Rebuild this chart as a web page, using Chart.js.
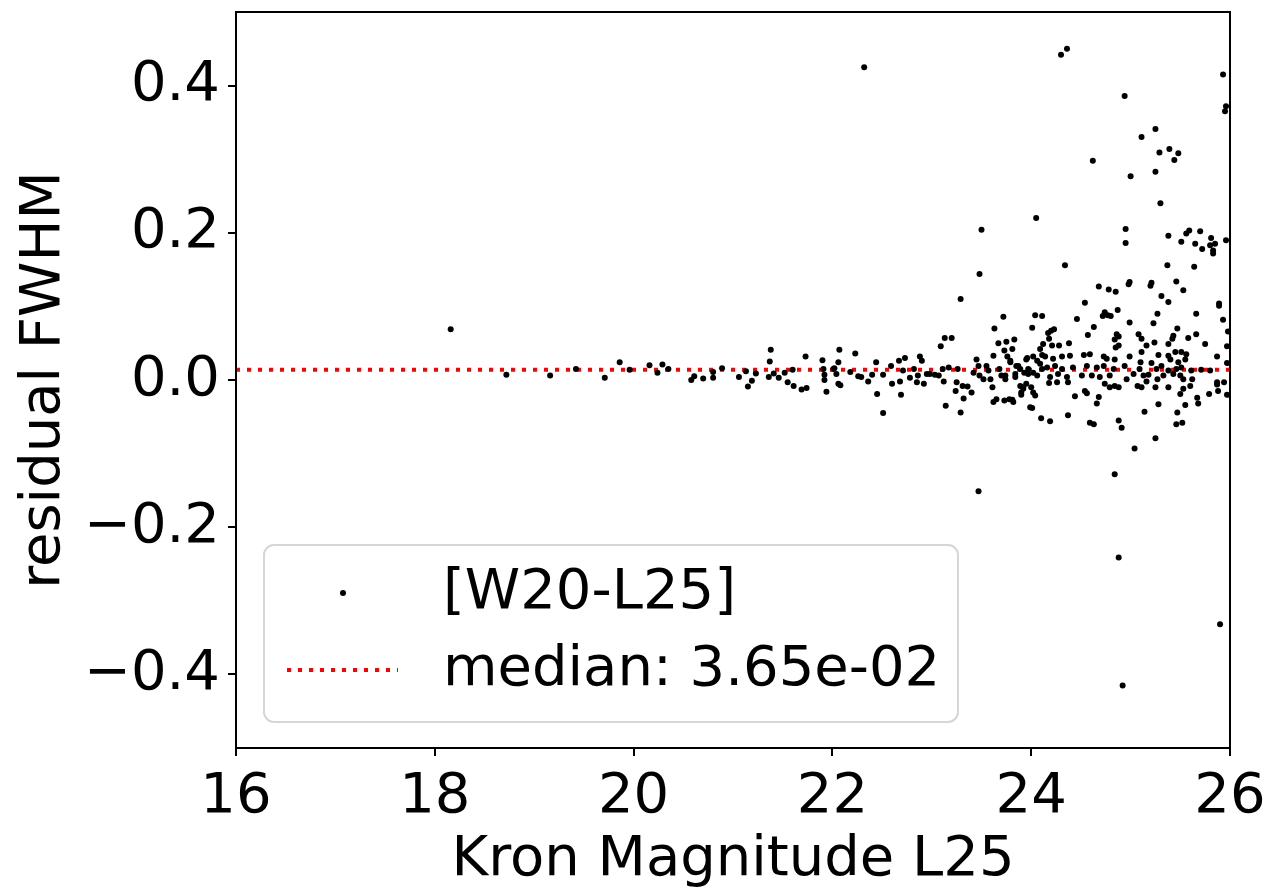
<!DOCTYPE html>
<html>
<head>
<meta charset="utf-8">
<script src="https://cdn.jsdelivr.net/npm/chart.js@4.4.1/dist/chart.umd.min.js"></script>
<style>
  html, body { margin: 0; padding: 0; background: #fff; }
  #wrap { width: 1276px; height: 890px; }
</style>
</head>
<body>
<div id="wrap"><canvas id="canvas" width="1276" height="890"></canvas></div>
<script>
// Kron magnitude (x) and residual FWHM (y)
var magnitude = [
  18.16,18.72,19.16,19.42,19.71,19.86,19.96,20.16,20.24,20.29,20.35,20.58,20.61,20.70,20.80,20.80,20.89,
  21.06,21.13,21.15,21.19,21.23,21.37,21.38,21.36,21.41,21.46,21.52,21.55,21.60,21.61,21.69,21.74,21.73,
  21.90,21.91,21.92,21.92,21.94,22.01,22.07,22.06,22.06,
  22.02,22.04,22.08,22.23,22.18,22.26,22.29,22.36,22.40,22.44,22.45,22.51,22.51,22.59,22.60,22.67,22.73,
  22.68,22.69,22.71,22.78,22.82,22.88,22.90,22.86,22.85,22.92,22.95,22.98,23.03,23.07,23.09,23.13,23.20,
  23.11,23.12,23.14,23.17,23.26,23.25,23.24,23.29,23.32,23.31,23.36,23.40,23.29,23.42,23.45,23.47,23.48,
  23.52,23.55,23.57,23.59,23.61,23.62,23.65,23.62,23.63,23.67,23.68,23.70,23.72,23.73,23.74,23.75,23.78,
  23.79,23.81,23.83,23.84,23.87,23.90,23.92,23.95,23.97,23.99,
  24.68,24.78,24.85,24.54,24.74,24.77,24.80,24.72,24.87,24.04,24.11,24.46,24.01,24.20,24.23,24.17,24.63,
  24.57,24.86,24.84,24.88,24.18,24.12,24.09,24.11,24.14,24.21,24.28,24.38,23.76,23.96,24.02,24.06,24.09,
  24.22,24.31,24.39,24.53,24.59,24.73,24.76,23.79,23.85,23.89,23.93,23.97,24.02,24.11,24.16,24.24,24.31,
  24.42,24.56,24.66,24.73,24.83,23.74,23.84,24.06,24.19,24.27,24.36,24.51,24.61,24.69,24.79,23.89,23.92,
  23.95,24.00,24.02,24.04,23.90,24.18,24.26,24.37,24.44,24.54,24.56,24.68,24.66,24.74,24.79,24.84,23.73,
  23.81,23.82,24.01,24.10,24.19,24.37,24.59,24.63,24.88,
  24.95,24.95,25.38,25.56,25.59,25.70,25.51,25.65,25.72,25.81,25.80,25.83,25.85,25.83,25.96,25.37,25.64,
  24.99,24.98,25.21,25.20,25.46,25.53,25.31,25.38,25.89,25.89,25.27,25.66,25.93,24.99,25.23,25.47,25.98,
  24.88,25.08,25.11,25.16,25.43,25.42,25.38,25.58,25.66,25.75,25.24,25.97,24.85,25.11,25.10,24.99,25.28,
  25.38,25.40,25.45,25.51,25.56,25.55,25.87,25.97,24.84,24.94,25.03,25.09,25.13,25.18,25.21,25.26,25.31,
  25.33,25.38,25.43,25.46,25.50,25.53,25.51,25.48,25.61,25.71,25.80,24.88,24.96,25.07,25.11,25.16,25.25,
  25.27,25.38,25.50,25.53,25.60,25.62,25.67,25.68,25.79,25.87,25.88,25.94,25.97,25.87,25.14,25.28,25.47,
  25.55,25.46,25.52,24.91,25.25,25.04,24.84,
  22.32,24.30,24.36,25.93,25.96,25.95,24.94,25.25,25.11,25.29,25.39,25.48,25.44,24.62,25.00,25.25,25.30,
  24.05,23.50,23.48,24.34,
  23.47,24.88,25.90,24.92
];
var residual = [
  0.069,0.007,0.006,0.015,0.003,0.024,0.014,0.020,0.010,0.021,0.015,0.000,0.005,0.002,0.011,0.003,0.016,
  0.004,0.012,-0.009,-0.001,0.009,0.025,0.041,0.004,0.009,0.003,0.010,-0.003,0.014,-0.008,-0.013,-0.011,0.032,
  0.027,0.015,0.007,0.000,-0.016,0.015,0.041,0.024,-0.005,
  0.016,0.008,-0.007,0.036,0.011,0.005,0.004,-0.002,0.007,0.024,-0.019,-0.045,0.007,0.019,-0.005,0.026,0.030,
  -0.002,-0.020,0.013,0.003,0.015,0.032,0.026,0.006,-0.003,-0.005,0.008,0.008,0.007,0.006,0.046,0.057,0.057,
  0.015,-0.002,-0.035,0.017,0.015,-0.003,-0.015,-0.044,-0.025,-0.008,-0.009,-0.017,0.110,0.010,0.028,0.019,0.006,
  0.001,0.019,0.013,0.001,-0.010,-0.030,-0.026,0.033,0.070,0.050,0.015,0.006,0.086,0.040,0.001,0.052,-0.026,
  0.026,0.042,0.055,0.008,0.019,-0.017,-0.010,0.028,0.008,-0.037,
  0.127,0.123,0.120,0.105,0.092,0.088,0.087,0.087,0.095,0.088,0.087,0.083,0.071,0.067,0.069,0.064,0.072,
  0.061,0.062,0.055,0.047,0.056,0.049,0.042,0.034,0.032,0.047,0.047,0.050,0.032,0.030,0.032,0.026,0.022,
  0.029,0.032,0.033,0.034,0.035,0.032,0.029,0.024,0.019,0.015,0.010,0.015,0.010,0.015,0.017,0.019,0.015,
  0.017,0.019,0.017,0.019,0.015,0.006,0.004,0.006,0.004,0.008,0.004,0.006,0.006,0.004,0.006,-0.008,-0.012,
  -0.005,-0.010,-0.017,-0.021,-0.020,-0.004,-0.003,-0.003,-0.022,-0.015,-0.018,-0.023,-0.032,-0.005,-0.010,-0.008,-0.028,
  -0.027,-0.030,-0.038,-0.052,-0.056,-0.048,-0.058,-0.060,-0.055,
  0.205,0.186,0.196,0.199,0.203,0.202,0.188,0.185,0.178,0.193,0.183,0.176,0.185,0.172,0.190,0.156,0.154,
  0.133,0.130,0.132,0.128,0.134,0.122,0.114,0.106,0.104,0.101,0.090,0.090,0.082,0.078,0.077,0.070,0.066,
  0.059,0.062,0.056,0.047,0.060,0.056,0.049,0.057,0.062,0.049,0.051,0.046,0.044,0.038,0.024,0.032,0.034,
  0.033,0.028,0.038,0.038,0.035,0.028,0.032,0.023,0.028,0.019,0.008,0.015,0.006,0.007,0.023,0.015,0.019,
  0.006,0.013,0.008,0.015,0.006,0.001,0.017,0.024,0.013,0.014,0.013,-0.010,0.001,-0.008,-0.010,-0.002,-0.010,
  0.001,-0.010,-0.019,-0.012,-0.008,0.001,-0.024,-0.032,-0.019,-0.006,-0.015,-0.003,-0.020,-0.003,-0.043,-0.033,-0.044,
  -0.034,-0.060,-0.058,-0.065,-0.079,-0.093,-0.128,
  0.425,0.442,0.450,0.415,0.372,0.365,0.386,0.341,0.330,0.309,0.314,0.308,0.299,0.298,0.277,0.283,0.240,
  0.220,0.204,0.144,0.156,
  -0.151,-0.241,-0.332,-0.415
];
var medianLevel = 0.014;
var xRange = [16, 26];
var yRange = [-0.5, 0.5];
var xTicks = [16, 18, 20, 22, 24, 26];
var yTicks = [-0.4, -0.2, 0.0, 0.2, 0.4];
var seriesName = "[W20-L25]";
var medianName = "median: 3.65e-02";

var FONT = "'DejaVu Sans', sans-serif";
var FS = 56;

var points = [];
for (var i = 0; i < magnitude.length; i++) {
    points.push({x: magnitude[i], y: residual[i]});
}

// top/right spines + legend box (matplotlib style, inside the axes)
var framePlugin = {
    id: 'frame',
    afterDraw: function(chart) {
        var ctx = chart.ctx;
        var a = chart.chartArea;
        ctx.save();
        ctx.strokeStyle = '#000';
        ctx.lineWidth = 2;
        ctx.strokeRect(a.left, a.top, a.right - a.left, a.bottom - a.top);

        // legend
        var bx = 264, by = 545, bw = 694, bh = 177, r = 10;
        ctx.beginPath();
        ctx.moveTo(bx + r, by);
        ctx.arcTo(bx + bw, by, bx + bw, by + bh, r);
        ctx.arcTo(bx + bw, by + bh, bx, by + bh, r);
        ctx.arcTo(bx, by + bh, bx, by, r);
        ctx.arcTo(bx, by, bx + bw, by, r);
        ctx.closePath();
        ctx.fillStyle = 'rgba(255,255,255,0.8)';
        ctx.fill();
        ctx.strokeStyle = '#d6d6d6';
        ctx.lineWidth = 2;
        ctx.stroke();

        ctx.fillStyle = '#000';
        ctx.beginPath();
        ctx.arc(343, 593, 3, 0, Math.PI * 2);
        ctx.fill();

        ctx.strokeStyle = 'red';
        ctx.lineWidth = 4;
        ctx.setLineDash([4, 7]);
        ctx.beginPath();
        ctx.moveTo(287, 670);
        ctx.lineTo(398, 670);
        ctx.stroke();
        ctx.setLineDash([]);

        ctx.font = FS + 'px ' + FONT;
        ctx.textBaseline = 'middle';
        ctx.textAlign = 'left';
        ctx.fillStyle = '#000';
        ctx.fillText(seriesName, 443, 593);
        ctx.fillText(medianName, 443, 670);
        ctx.restore();
    }
};

function noEndPadding(s) {
    s.paddingTop = 0;
    s.paddingBottom = 0;
    s.paddingLeft = 0;
    s.paddingRight = 0;
}

var ctx = document.getElementById('canvas');
var chart = new Chart(ctx, {
    type: 'scatter',
    data: {
        datasets: [
            {
                label: seriesName,
                data: points,
                backgroundColor: '#000',
                borderWidth: 0,
                pointRadius: 3,
                pointHoverRadius: 3
            },
            {
                type: 'line',
                label: medianName,
                data: [{x: xRange[0], y: medianLevel}, {x: xRange[1], y: medianLevel}],
                borderColor: 'red',
                borderWidth: 4,
                borderDash: [4, 7],
                pointRadius: 0,
                fill: false
            }
        ]
    },
    options: {
        responsive: false,
        animation: false,
        devicePixelRatio: 1,
        layout: { padding: { left: 0, right: 46, top: 12, bottom: 0 } },
        plugins: {
            legend: { display: false },
            tooltip: { enabled: false }
        },
        scales: {
            x: {
                type: 'linear',
                min: xRange[0],
                max: xRange[1],
                afterBuildTicks: function(s) { s.ticks = xTicks.map(function(v){ return {value: v}; }); },
                afterFit: function(s) { s.height = 142; noEndPadding(s); },
                grid: { display: true, drawOnChartArea: false, drawTicks: true, tickLength: 8, color: '#000', lineWidth: 2 },
                border: { display: true, color: '#000', width: 2 },
                ticks: {
                    color: '#000',
                    padding: 8,
                    maxRotation: 0,
                    font: { family: FONT, size: FS },
                    callback: function(v) { return String(v); }
                },
                title: {
                    display: true,
                    text: 'Kron Magnitude L25',
                    color: '#000',
                    font: { family: FONT, size: FS, lineHeight: 1 },
                    padding: { top: 0, bottom: 2 }
                }
            },
            y: {
                type: 'linear',
                min: yRange[0],
                max: yRange[1],
                afterBuildTicks: function(s) { s.ticks = yTicks.map(function(v){ return {value: v}; }); },
                afterFit: function(s) { s.width = 236; noEndPadding(s); },
                grid: { display: true, drawOnChartArea: false, drawTicks: true, tickLength: 8, color: '#000', lineWidth: 2 },
                border: { display: true, color: '#000', width: 2 },
                ticks: {
                    color: '#000',
                    padding: 8,
                    font: { family: FONT, size: FS },
                    callback: function(v) {
                        return (v < -1e-9 ? '\u2212' : '') + Math.abs(v).toFixed(1);
                    }
                },
                title: {
                    display: true,
                    text: 'residual FWHM',
                    color: '#000',
                    font: { family: FONT, size: FS, lineHeight: 1 },
                    padding: { top: 16, bottom: 0 }
                }
            }
        }
    },
    plugins: [framePlugin]
});
</script>
</body>
</html>
